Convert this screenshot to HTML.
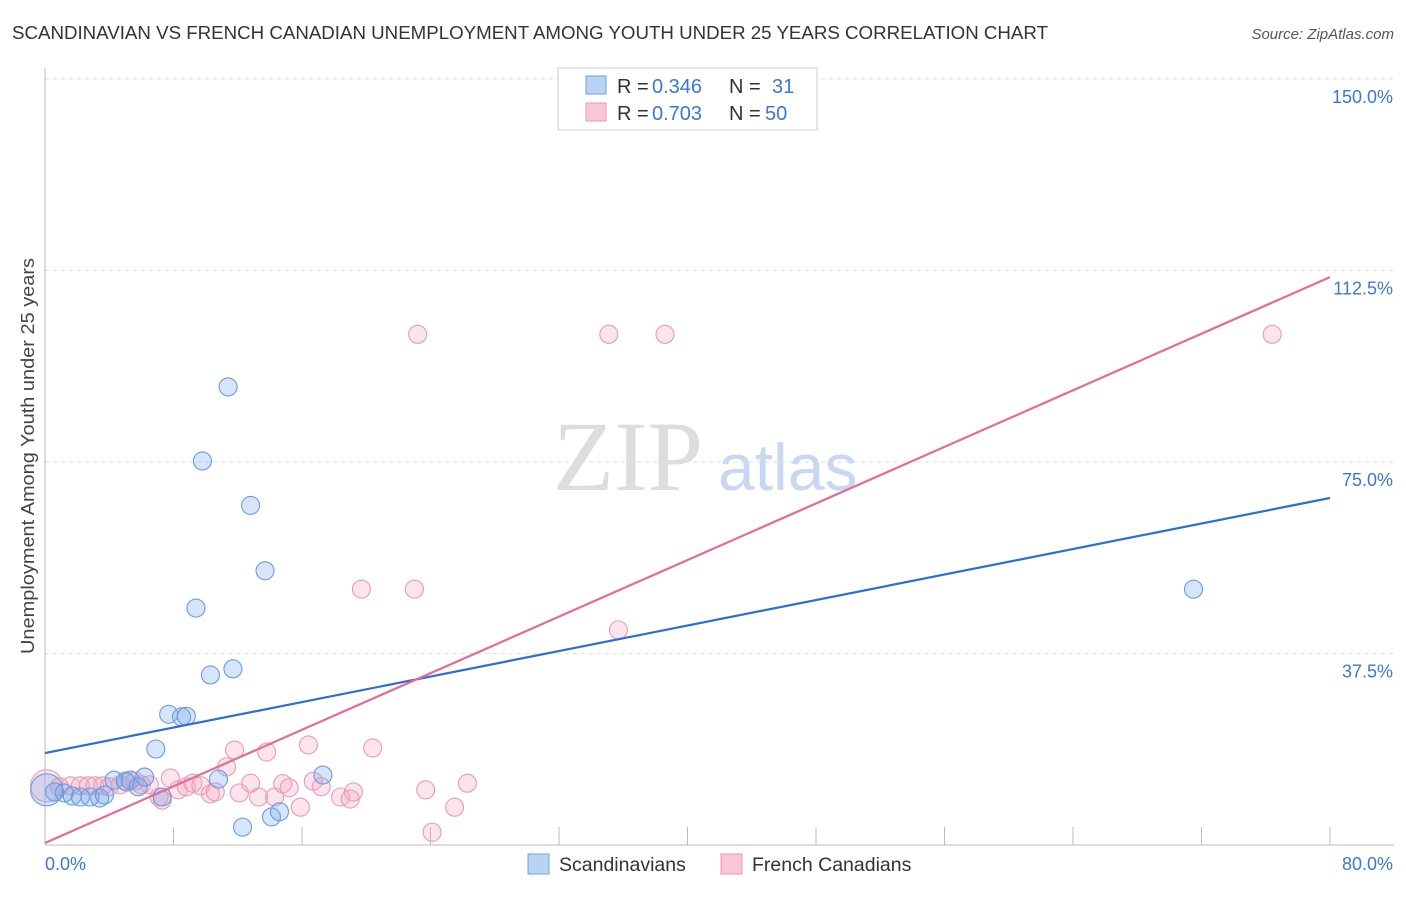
<!DOCTYPE html>
<html><head><meta charset="utf-8"><style>
body{margin:0;background:#fff;font-family:"Liberation Sans",sans-serif}
</style></head><body>
<svg id="c" width="1406" height="892" font-family="Liberation Sans, sans-serif">
<text x="12" y="39" font-size="18" fill="#333" textLength="1036" lengthAdjust="spacingAndGlyphs">SCANDINAVIAN VS FRENCH CANADIAN UNEMPLOYMENT AMONG YOUTH UNDER 25 YEARS CORRELATION CHART</text>
<text x="1394" y="39" font-size="15" fill="#555" font-style="italic" text-anchor="end">Source: ZipAtlas.com</text>
<text x="34" y="456" font-size="18" fill="#444" text-anchor="middle" textLength="396" lengthAdjust="spacingAndGlyphs" transform="rotate(-90 34 456)">Unemployment Among Youth under 25 years</text>
<text x="553" y="490" font-size="100" fill="#ddd" style="font-family:'Liberation Serif',serif">ZIP</text>
<text x="718" y="490" font-size="66" fill="#c8d8f0">atlas</text>
<g id="grid"></g><g id="marks"></g>
<g>
<rect x="558" y="68" width="259" height="62" fill="#fff" stroke="#ccc"/>
<rect x="586" y="76" width="20" height="18" fill="#b8d4f5" stroke="#6fa0e0"/>
<rect x="586" y="103" width="20" height="18" fill="#f9c6d5" stroke="#eb98b2"/>
<text x="617" y="93" font-size="20" fill="#333">R =</text><text x="652" y="93" font-size="20" fill="#3a78d8">0.346</text>
<text x="729" y="93" font-size="20" fill="#333">N =</text><text x="772" y="93" font-size="20" fill="#3a78d8">31</text>
<text x="617" y="120" font-size="20" fill="#333">R =</text><text x="652" y="120" font-size="20" fill="#3a78d8">0.703</text>
<text x="729" y="120" font-size="20" fill="#333">N =</text><text x="765" y="120" font-size="20" fill="#3a78d8">50</text>
</g>
<g>
<rect x="528" y="854" width="21" height="20" fill="#b8d4f5" stroke="#6fa0e0"/>
<text x="559" y="871" font-size="19.5" fill="#333">Scandinavians</text>
<rect x="721" y="854" width="21" height="20" fill="#f9c6d5" stroke="#eb98b2"/>
<text x="752" y="871" font-size="19.5" fill="#333">French Canadians</text>
</g>
</svg>
<script>
const yTicks=[37.5,75,112.5,150];
const yTickLabels=["37.5%","75.0%","112.5%","150.0%"];
const blueX=[0.1,0.6,1.2,1.7,2.2,2.8,3.4,3.7,4.3,5.0,5.3,5.8,6.2,6.9,7.3,7.7,8.5,8.8,9.4,9.8,10.3,10.8,11.4,11.7,12.3,12.8,13.7,14.1,14.6,17.3,71.5];
const blueY=[10.8,10.4,10.2,9.6,9.4,9.4,9.2,9.8,12.7,12.5,12.7,11.4,13.3,18.8,9.4,25.6,25.1,25.2,46.4,75.2,33.3,12.9,89.7,34.5,3.5,66.5,53.7,5.5,6.5,13.7,50.1];
const pinkX=[0.1,0.9,1.6,2.2,2.7,3.1,3.6,4.0,4.7,5.1,5.6,6.0,6.5,7.1,7.3,7.8,8.3,8.8,9.2,9.7,10.3,10.6,11.3,11.8,12.1,12.8,13.3,13.8,14.3,14.8,15.2,15.9,16.4,16.7,17.2,18.4,19.0,19.2,19.7,20.4,23.0,23.2,23.7,24.1,25.5,26.3,35.1,35.7,38.6,76.4];
const pinkY=[11.6,11.4,11.6,11.6,11.6,11.6,11.6,11.4,11.8,12.3,12.5,11.8,11.8,9.4,8.8,13.1,10.8,11.4,12.1,11.6,10.0,10.4,15.3,18.6,10.2,12.1,9.4,18.2,9.4,12.0,11.2,7.4,19.6,12.5,11.4,9.4,9.0,10.4,50.1,19.0,50.1,100.0,10.8,2.5,7.4,12.1,100.0,42.1,100.0,100.0];
const blueLine=[18.0,67.95];
const pinkLine=[0.4,111.2];
const NS="http://www.w3.org/2000/svg";
const X=v=>45+v/80*1285, Y=v=>845-v/150*766;
function mk(t,a,p){const e=document.createElementNS(NS,t);for(const k in a)e.setAttribute(k,a[k]);p.appendChild(e);return e;}
const g=document.getElementById('grid'),m=document.getElementById('marks');
yTicks.forEach((t,i)=>{
 const l=mk('line',{x1:45,x2:1394,y1:Y(t),y2:Y(t),stroke:'#ddd','stroke-dasharray':'4,4'},g);
 
 
 const tx=mk('text',{x:1393,y:Y(t)+24,'font-size':18,fill:'#3a78d8','text-anchor':'end'},g);
 tx.textContent=yTickLabels[i];
 
 
});
mk('line',{x1:45,x2:45,y1:68,y2:845,stroke:'#bbb'},g);
mk('line',{x1:45,x2:1394,y1:845,y2:845,stroke:'#bbb'},g);
for(let i=1;i<=10;i++){mk('line',{x1:X(i*8),x2:X(i*8),y1:827,y2:845,stroke:'#bbb'},g);}
const x0=mk('text',{x:45,y:870,'font-size':18,fill:'#3a78d8'},g);x0.textContent='0.0%';


const x1=mk('text',{x:1393,y:870,'font-size':18,fill:'#3a78d8','text-anchor':'end'},g);x1.textContent='80.0%';


function pts(xs,ys,fill,stroke,name){xs.forEach((x,i)=>{
 const c=mk('circle',{cx:X(x),cy:Y(ys[i]),r:i==0?16:9,fill:fill,stroke:stroke,'stroke-width':1.1},m);
 
 
});}
pts(pinkX,pinkY,'rgba(245,165,192,0.3)','#eb9ab4','french-canadian-point');
pts(blueX,blueY,'rgba(120,170,235,0.3)','#6a9ae0','scandinavian-point');
const bl=mk('line',{x1:X(0),y1:Y(blueLine[0]),x2:X(80),y2:Y(blueLine[1]),stroke:'#2a6fd6','stroke-width':2.2},m);


const pl=mk('line',{x1:X(0),y1:Y(pinkLine[0]),x2:X(80),y2:Y(pinkLine[1]),stroke:'#e6699a','stroke-width':2.2},m);


</script>
</body></html>
